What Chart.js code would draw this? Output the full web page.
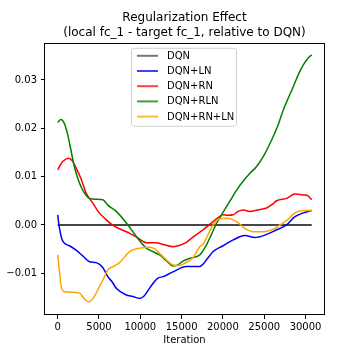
<!DOCTYPE html>
<html>
<head>
<meta charset="utf-8">
<script src="https://cdn.jsdelivr.net/npm/chart.js@4.4.0/dist/chart.umd.min.js"></script>
<style>
  html, body { margin: 0; padding: 0; background: #fff; overflow: hidden; }
  canvas { display: block; }
</style>
</head>
<body>
<canvas id="chart" width="360" height="360"></canvas>
<script>
// values
const titleLines = ['Regularization Effect', '(local fc_1 - target fc_1, relative to DQN)'];
const seriesNames = ['DQN', 'DQN+LN', 'DQN+RN', 'DQN+RLN', 'DQN+RN+LN'];
const seriesColors = ['rgba(0,0,0,0.72)', '#0000ff', '#ff0000', '#008000', '#ffa500'];
const xTicks = [0, 5000, 10000, 15000, 20000, 25000, 30000];
const yTicks = [-0.01, 0, 0.01, 0.02, 0.03];

const dqnIter = [0, 30750];
const dqnVal = [0, 0];

const lnIter = [0, 200, 600, 1420, 2230, 3030, 3850, 4660, 5460, 6070, 6600, 7090, 8300, 9100, 9920, 10400, 10730, 11530, 12140, 12750, 13960, 15570, 17200, 17600, 18200, 18820, 20030, 21240, 22660, 23870, 25080, 26500, 27710, 28720, 29730, 30750];
const lnVal = [0.0021, -0.0005, -0.0033, -0.0043, -0.0052, -0.0064, -0.0076, -0.0078, -0.0088, -0.0107, -0.0118, -0.0131, -0.0145, -0.0148, -0.0152, -0.0148, -0.0141, -0.0121, -0.0110, -0.0107, -0.0097, -0.0086, -0.0086, -0.0081, -0.0068, -0.0055, -0.0043, -0.0031, -0.0022, -0.0026, -0.0021, -0.0010, 0.0, 0.0017, 0.0025, 0.0030];

const rnIter = [0, 600, 1330, 1800, 2230, 2840, 3440, 4250, 4980, 5800, 6600, 7600, 8700, 9700, 10730, 11940, 12900, 13960, 14800, 15570, 16380, 17600, 18820, 19500, 20030, 20600, 21240, 21850, 22450, 23260, 24200, 25280, 26000, 26500, 27710, 28720, 29730, 30300, 30750];
const rnVal = [0.0114, 0.0131, 0.0138, 0.0132, 0.0118, 0.0095, 0.0066, 0.0045, 0.0026, 0.0012, 0.0, -0.0009, -0.0017, -0.0027, -0.0037, -0.0037, -0.0041, -0.0045, -0.0042, -0.0036, -0.0025, -0.0010, 0.0007, 0.0016, 0.0021, 0.0020, 0.0021, 0.0028, 0.0031, 0.0028, 0.0031, 0.0035, 0.0043, 0.0050, 0.0055, 0.0064, 0.0062, 0.0060, 0.0052];

const rlnIter = [0, 400, 800, 1200, 1600, 2000, 2400, 2800, 3240, 3850, 4660, 5460, 6070, 7090, 8500, 9710, 10730, 11500, 12340, 13150, 13960, 14500, 15170, 16000, 17200, 18010, 18600, 19220, 19800, 20440, 21050, 21650, 22660, 23270, 24080, 25000, 26090, 26700, 27310, 27900, 28520, 29100, 29730, 30300, 30750];
const rlnVal = [0.0212, 0.0218, 0.0210, 0.0188, 0.0155, 0.0122, 0.0098, 0.0080, 0.0066, 0.0055, 0.0053, 0.0052, 0.0041, 0.0028, 0.0, -0.0028, -0.0048, -0.0055, -0.0062, -0.0074, -0.0085, -0.0083, -0.0075, -0.0069, -0.0062, -0.0041, -0.0020, 0.0003, 0.0020, 0.0038, 0.0055, 0.0072, 0.0095, 0.0107, 0.0121, 0.0145, 0.0183, 0.0208, 0.0238, 0.0262, 0.0286, 0.0310, 0.0331, 0.0345, 0.0352];

const rnlnIter = [0, 200, 400, 800, 1800, 2630, 3240, 3750, 4250, 4980, 5500, 6070, 6500, 7490, 8700, 9920, 11130, 11800, 12340, 13150, 13960, 14600, 15170, 16380, 17200, 17600, 18200, 18820, 19630, 20440, 21650, 22660, 23670, 24880, 26090, 26900, 27910, 28720, 29730, 30750];
const rnlnVal = [-0.0062, -0.0093, -0.0125, -0.0138, -0.0139, -0.0141, -0.0153, -0.0159, -0.0153, -0.0130, -0.0113, -0.0093, -0.0088, -0.0078, -0.0055, -0.0048, -0.0046, -0.0050, -0.0059, -0.0072, -0.0083, -0.0084, -0.0081, -0.0068, -0.0045, -0.0040, -0.0020, 0.0, 0.0013, 0.0014, 0.0007, -0.0007, -0.0014, -0.0014, -0.0009, 0.0, 0.0012, 0.0025, 0.0030, 0.0030];

const FONT = "'DejaVu Sans', 'Liberation Sans', sans-serif";

function toPoints(xs, ys) {
    return xs.map((x, i) => ({ x: x, y: ys[i] }));
}

const seriesData = [
    toPoints(dqnIter, dqnVal),
    toPoints(lnIter, lnVal),
    toPoints(rnIter, rnVal),
    toPoints(rlnIter, rlnVal),
    toPoints(rnlnIter, rnlnVal)
];

// matplotlib-like box around the plot area
const framePlugin = {
    id: 'frame',
    afterDatasetsDraw(chart) {
        const { ctx, chartArea } = chart;
        ctx.save();
        ctx.strokeStyle = '#000';
        ctx.lineWidth = 1;
        ctx.strokeRect(Math.round(chartArea.left) - 0.5, Math.round(chartArea.top) + 0.5,
            Math.round(chartArea.right - chartArea.left) + 1, Math.round(chartArea.bottom - chartArea.top) - 1);
        ctx.restore();
    }
};

// legend box inside the axes, centred at the top
const boxLegendPlugin = {
    id: 'boxLegend',
    afterDatasetsDraw(chart) {
        const { ctx, chartArea } = chart;
        const w = 105, rowH = 15.2, h = 78;
        const x = chartArea.left + (chartArea.right - chartArea.left - w) / 2 - 1;
        const y = chartArea.top + 5;
        ctx.save();
        ctx.beginPath();
        ctx.roundRect(x + 0.5, y + 0.5, w, h, 3);
        ctx.fillStyle = 'rgba(255,255,255,0.8)';
        ctx.fill();
        ctx.strokeStyle = '#d0d0d0';
        ctx.lineWidth = 1;
        ctx.stroke();
        ctx.font = '10px ' + FONT;
        ctx.textBaseline = 'middle';
        ctx.textAlign = 'left';
        chart.data.datasets.forEach((ds, i) => {
            const cy = y + 8 + i * rowH;
            ctx.globalAlpha = 0.75;
            ctx.strokeStyle = ds.borderColor;
            ctx.lineWidth = 2;
            ctx.beginPath();
            ctx.moveTo(x + 6, cy);
            ctx.lineTo(x + 27, cy);
            ctx.stroke();
            ctx.globalAlpha = 1;
            ctx.fillStyle = '#000';
            ctx.fillText(ds.label, x + 36, cy + 0.5);
        });
        ctx.restore();
    }
};

const ctx = document.getElementById('chart').getContext('2d');
new Chart(ctx, {
    type: 'line',
    data: {
        datasets: seriesNames.map((name, i) => ({
            label: name,
            data: seriesData[i],
            borderColor: seriesColors[i],
            backgroundColor: seriesColors[i],
            borderWidth: i === 0 ? 2 : 1.5,
            pointRadius: 0,
            fill: false,
            cubicInterpolationMode: 'monotone',
            order: i === 0 ? 10 : 5 - i
        }))
    },
    options: {
        responsive: false,
        animation: false,
        devicePixelRatio: 1,
        layout: {
            padding: { left: 0, right: 36, top: 0, bottom: 0 }
        },
        scales: {
            x: {
                type: 'linear',
                min: -1535,
                max: 32235,
                afterFit(scale) { scale.height = 45; },
                afterBuildTicks(scale) { scale.ticks = xTicks.map(v => ({ value: v })); },
                border: { display: false },
                grid: { display: true, drawOnChartArea: false, drawTicks: true, tickLength: 4, color: '#000' },
                ticks: {
                    autoSkip: false,
                    maxRotation: 0,
                    padding: 2,
                    color: '#000',
                    font: { family: FONT, size: 10 },
                    callback: v => String(v)
                },
                title: {
                    display: true,
                    text: 'Iteration',
                    color: '#000',
                    font: { family: FONT, size: 10 },
                    padding: { top: 0, bottom: 14 }
                }
            },
            y: {
                type: 'linear',
                min: -0.01863,
                max: 0.03768,
                afterFit(scale) { scale.width = 45; },
                afterBuildTicks(scale) { scale.ticks = yTicks.map(v => ({ value: v })); },
                border: { display: false },
                grid: { display: true, drawOnChartArea: false, drawTicks: true, tickLength: 4, color: '#000' },
                ticks: {
                    padding: 4,
                    color: '#000',
                    font: { family: FONT, size: 10 },
                    callback: v => (Math.abs(v) < 1e-9 ? '0.00' : v.toFixed(2).replace('-', '\u2212'))
                },
                title: {
                    display: true,
                    text: 'Ratio',
                    color: '#000',
                    font: { family: FONT, size: 10 },
                    padding: { top: -8.5, bottom: 0 }
                }
            }
        },
        plugins: {
            legend: { display: false },
            tooltip: { enabled: false },
            title: {
                display: true,
                text: titleLines,
                color: '#000',
                fullSize: false,
                font: { family: FONT, size: 12, weight: 'normal', lineHeight: 1.2 },
                padding: { top: 11, bottom: 3 }
            }
        }
    },
    plugins: [framePlugin, boxLegendPlugin]
});
</script>
</body>
</html>
